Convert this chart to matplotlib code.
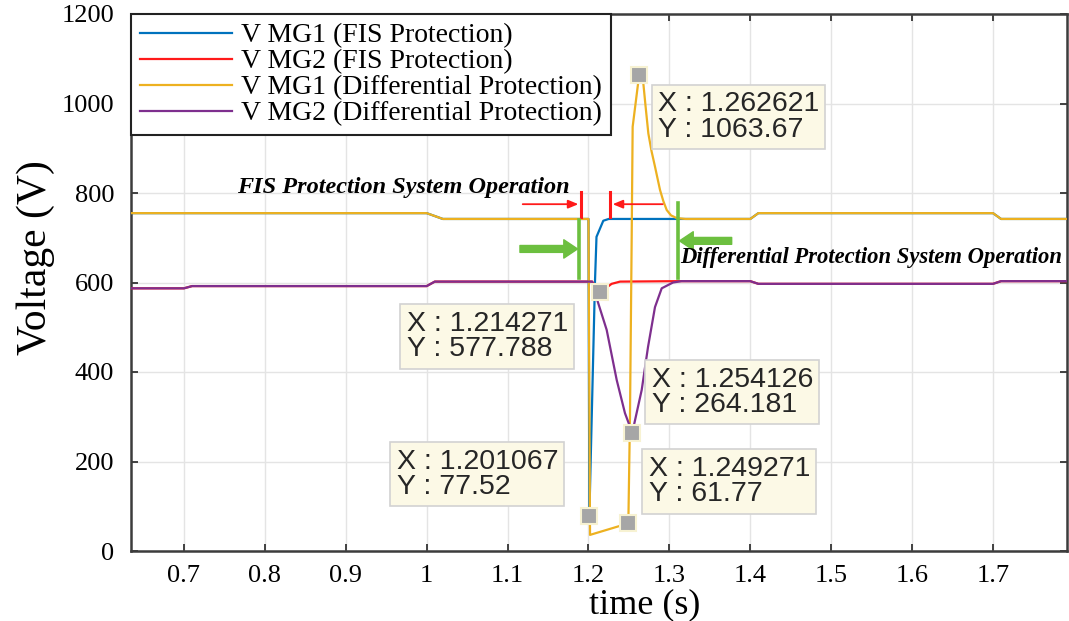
import matplotlib
matplotlib.use('Agg')
import matplotlib.pyplot as plt

# time (s) / voltage (V) breakpoints of each trace
t_mg1_fis = [0.635, 1.0, 1.02, 1.2, 1.201067, 1.208, 1.2099, 1.2183, 1.225, 1.31, 1.4, 1.41, 1.7, 1.71, 1.792]
v_mg1_fis = [755, 755, 742, 742, 77.52, 600, 702, 738, 742, 742, 742, 755, 755, 742, 742]

t_mg2_fis = [0.635, 0.7, 0.71, 1.0, 1.01, 1.2045, 1.214271, 1.2286, 1.239, 1.31, 1.4, 1.41, 1.7, 1.71, 1.792]
v_mg2_fis = [587, 587, 592, 592, 602, 602, 577.788, 597, 602, 603, 603, 597, 597, 603, 603]

t_mg1_diff = [0.635, 1.0, 1.02, 1.2, 1.2019, 1.249271, 1.2513, 1.2534, 1.2546, 1.262621,
              1.2655, 1.2678, 1.2705, 1.274, 1.278, 1.2822, 1.2884, 1.2925, 1.2967, 1.302,
              1.309, 1.32, 1.4, 1.41, 1.7, 1.71, 1.792]
v_mg1_diff = [755, 755, 742, 742, 36, 61.77, 300, 700, 948, 1063.67,
              1058, 1045, 995, 933, 893, 859, 807, 782, 762, 750,
              744, 742, 742, 755, 755, 742, 742]

t_mg2_diff = [0.635, 0.7, 0.71, 1.0, 1.01, 1.2045, 1.208, 1.2225, 1.2349, 1.2451, 1.254126,
              1.2658, 1.2736, 1.2822, 1.2905, 1.3045, 1.315, 1.4, 1.41, 1.7, 1.71, 1.792]
v_mg2_diff = [587, 587, 592, 592, 602, 602, 577, 494, 382, 308, 264.181,
              360, 456, 545, 587, 600, 603, 603, 597, 597, 603, 603]

series_labels = ['V MG1 (FIS Protection)', 'V MG2 (FIS Protection)',
                 'V MG1 (Differential Protection)', 'V MG2 (Differential Protection)']
series_colors = ['#0072BD', '#FF1A1A', '#EDB120', '#7E2F8E']

# data tips: marked point and where its box sits
tip_x = [1.262621, 1.214271, 1.254126, 1.201067, 1.249271]
tip_y = [1063.67, 577.788, 264.181, 77.52, 61.77]
tip_y_text = ['1063.67', '577.788', '264.181', '77.52', '61.77']
tip_box_t = [1.2859, 0.9752, 1.278, 0.9628, 1.2743]
tip_box_v = [1028, 537, 412, 229, 213]

x_ticks = [0.7, 0.8, 0.9, 1.0, 1.1, 1.2, 1.3, 1.4, 1.5, 1.6, 1.7]
y_ticks = [0, 200, 400, 600, 800, 1000, 1200]

serif = 'Liberation Serif'
sans = 'Liberation Sans'

fig = plt.figure(figsize=(10.69, 6.21), dpi=100)
fig.patch.set_facecolor('white')
ax = fig.add_axes([131 / 1069, 70 / 621, 936 / 1069, 537 / 621])

# drawn in this order so orange/purple sit over blue/red where they overlap
ax.plot(t_mg1_fis, v_mg1_fis, color=series_colors[0], lw=1.6, label=series_labels[0], zorder=3)
ax.plot(t_mg2_fis, v_mg2_fis, color=series_colors[1], lw=1.6, label=series_labels[1], zorder=3)
ax.plot(t_mg1_diff, v_mg1_diff, color=series_colors[2], lw=1.6, label=series_labels[2], zorder=4)
ax.plot(t_mg2_diff, v_mg2_diff, color=series_colors[3], lw=1.6, label=series_labels[3], zorder=4)

ax.set_xlim(0.6345, 1.7915)
ax.set_ylim(0, 1200)
ax.set_xticks(x_ticks)
ax.set_xticklabels(['%g' % x for x in x_ticks])
ax.set_yticks(y_ticks)
ax.set_yticklabels([str(y) for y in y_ticks])
ax.grid(True, color='#e4e4e4', lw=1.0, zorder=0)
ax.tick_params(direction='in', length=5, width=1.3, color='#333333',
               top=True, right=True, labelsize=19)
ax.tick_params(axis='x', pad=10)
ax.tick_params(axis='y', pad=12)
for lab in ax.get_xticklabels() + ax.get_yticklabels():
    lab.set_fontfamily(serif)
for sp in ax.spines.values():
    sp.set_color('#3c3c3c')
    sp.set_linewidth(1.8)

ax.set_xlabel('time (s)', family=serif, fontsize=26)
ax.set_ylabel('Voltage (V)', family=serif, fontsize=30)
ax.xaxis.label.set_va('center')
ax.yaxis.label.set_va('center')
ax.xaxis.set_label_coords(0.549, -0.10)
ax.yaxis.set_label_coords(-0.102, 0.546)

leg = ax.legend(loc='upper left', bbox_to_anchor=(0, 1), borderaxespad=0,
                prop={'family': serif, 'size': 20}, fancybox=False, framealpha=1,
                edgecolor='#222222', labelspacing=0.02, handlelength=3.3,
                handletextpad=0.35, borderpad=0.32)
leg.get_frame().set_linewidth(1.5)
leg.set_zorder(10)

# FIS operation window (red)
red = '#FF1A1A'
ax.plot([1.1907, 1.1907], [747, 803], color=red, lw=2.2, zorder=5)
ax.plot([1.2266, 1.2266], [747, 803], color=red, lw=2.2, zorder=5)
ax.annotate('', xy=(1.1875, 775), xytext=(1.1187, 775),
            arrowprops=dict(arrowstyle='-|>,head_width=0.25,head_length=0.6',
                            color=red, lw=1.3, shrinkA=0, shrinkB=0), zorder=5)
ax.annotate('', xy=(1.2299, 775), xytext=(1.2917, 775),
            arrowprops=dict(arrowstyle='-|>,head_width=0.25,head_length=0.6',
                            color=red, lw=1.3, shrinkA=0, shrinkB=0), zorder=5)
ax.text(1.1771, 813, 'FIS Protection System Operation', family=serif,
        fontsize=17.5, fontweight='bold', fontstyle='italic', ha='right', va='center', zorder=6)

# differential operation window (green)
green = '#6CBF3F'
ax.plot([1.1887, 1.1887], [610, 740], color=green, lw=2.6, zorder=5)
ax.plot([1.311, 1.311], [609, 777], color=green, lw=2.6, zorder=5)
ax.annotate('', xy=(1.1865, 675), xytext=(1.1153, 675),
            arrowprops=dict(arrowstyle='simple,tail_width=0.45,head_width=1.2,head_length=0.9',
                            color=green, mutation_scale=11, shrinkA=0, shrinkB=0), zorder=5)
ax.annotate('', xy=(1.3125, 693), xytext=(1.377, 693),
            arrowprops=dict(arrowstyle='simple,tail_width=0.45,head_width=1.2,head_length=0.9',
                            color=green, mutation_scale=11, shrinkA=0, shrinkB=0), zorder=5)
ax.text(1.3131, 655, 'Differential Protection System Operation', family=serif,
        fontsize=16.3, fontweight='bold', fontstyle='italic', ha='left', va='center', zorder=6)

# data tips
ax.plot(tip_x, tip_y, ls='none', marker='s', ms=12, mfc='#a6a6a6', mec='#f7f2d2',
        mew=1.5, zorder=8)
for x, ytxt, bt, bv in zip(tip_x, tip_y_text, tip_box_t, tip_box_v):
    ax.text(bt, bv, 'X : %.6f\nY : %s' % (x, ytxt), family=sans, fontsize=20.5,
            color='#262626', ha='left', va='top', linespacing=0.98, zorder=9,
            bbox=dict(boxstyle='square,pad=0.22', fc='#fcf9e6', ec='#d2d2d2', lw=1.2))

fig.savefig('out.png', dpi=100)
